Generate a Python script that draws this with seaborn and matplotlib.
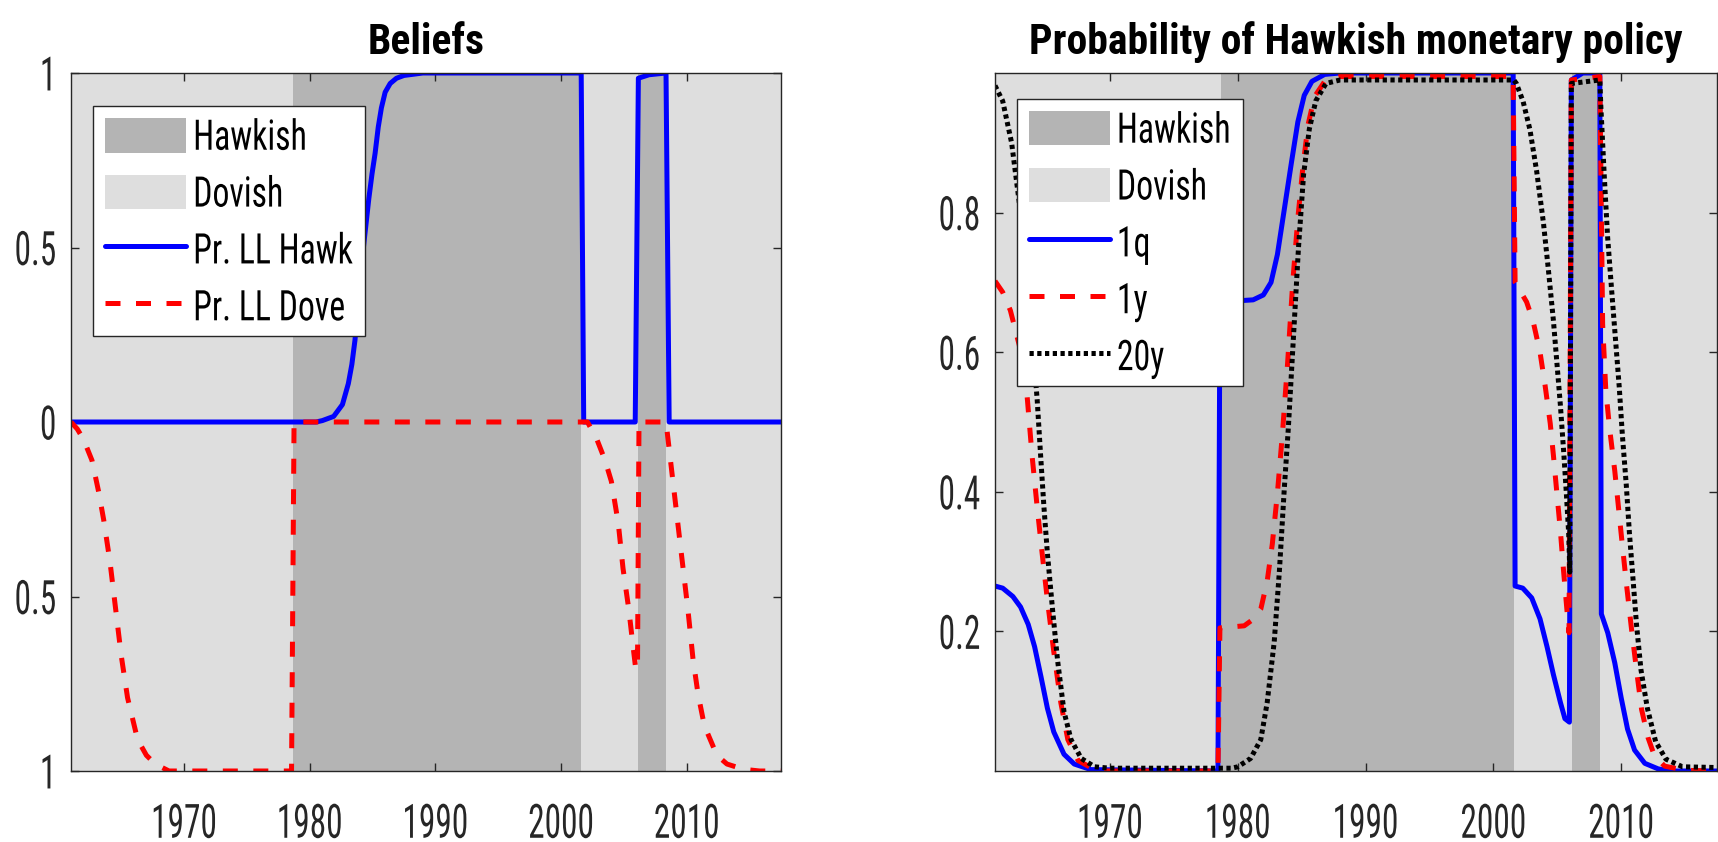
import os
import matplotlib
matplotlib.use("Agg")
import matplotlib.pyplot as plt
import seaborn as sns
import numpy as np
import pandas as pd
from matplotlib.patches import Patch
from matplotlib.lines import Line2D
from matplotlib import font_manager
from matplotlib.font_manager import FontProperties
from matplotlib.patheffects import AbstractPathEffect
from matplotlib.transforms import Affine2D

# ---------------- data ----------------
hawkish_start = [1978.67, 2006.15]
hawkish_end = [2001.6, 2008.35]
x_min, x_max = 1961.0, 2017.5
year_ticks = [1970, 1980, 1990, 2000, 2010]

# Left panel: Beliefs
hawk_years = [1961.0, 1980.5, 1981.0, 1981.9, 1982.6, 1983.07, 1983.35, 1983.6, 1983.9, 1984.1,
              1984.3, 1984.5, 1984.7, 1984.95, 1985.2, 1985.45, 1985.7, 1986.0, 1986.4, 1986.9,
              1987.5, 1989.0, 2001.6, 2001.8, 2005.9, 2006.15, 2007.0, 2008.35, 2008.6, 2017.5]
hawk_vals = [0.0, 0.0, 0.004, 0.016, 0.05, 0.11, 0.165, 0.235, 0.37, 0.44,
             0.51, 0.575, 0.64, 0.71, 0.77, 0.845, 0.9, 0.945, 0.97, 0.985,
             0.993, 1.0, 1.0, 0.0, 0.0, 0.985, 0.995, 1.0, 0.0, 0.0]

dove_years = [1961.0, 1961.5, 1962.0, 1962.67, 1963.2, 1963.6, 1964.1, 1964.6, 1965.0, 1965.5,
              1966.3, 1967.0, 1967.7, 1968.8, 1978.55, 1978.75, 2002.1, 2002.85, 2003.5, 2004.0,
              2004.55, 2004.93, 2005.4, 2005.7, 2005.95, 2006.08, 2006.2, 2008.35, 2008.9, 2009.45,
              2010.1, 2010.5, 2010.9, 2011.4, 2012.4, 2013.2, 2014.5, 2015.8, 2017.5]
dove_vals = [0.0, 0.02, 0.05, 0.11, 0.2, 0.28, 0.4, 0.55, 0.67, 0.79,
             0.91, 0.955, 0.98, 1.0, 1.0, 0.0, 0.0, 0.05, 0.11, 0.17,
             0.29, 0.42, 0.54, 0.635, 0.71, 0.70, 0.0, 0.0, 0.17, 0.34,
             0.54, 0.68, 0.78, 0.87, 0.955, 0.98, 0.995, 1.0, 1.0]

# Right panel: Probability of Hawkish monetary policy
q1_years = [1961.0, 1961.6, 1962.4, 1963.0, 1963.6, 1964.1, 1964.6, 1965.1, 1965.6, 1966.4,
            1967.2, 1968.5, 1978.45, 1978.6, 1981.2, 1982.0, 1982.6, 1983.1, 1983.6, 1984.2,
            1984.7, 1985.2, 1985.8, 1986.8, 1988.0, 2001.55, 2001.7, 2002.3, 2003.0, 2003.65,
            2004.2, 2004.7, 2005.25, 2005.6, 2005.95, 2006.1, 2007.0, 2008.33, 2008.45, 2008.95,
            2009.5, 2010.0, 2010.5, 2011.05, 2011.85, 2012.9, 2014.0, 2017.5]
q1_vals = [0.265, 0.262, 0.25, 0.235, 0.21, 0.178, 0.135, 0.09, 0.056, 0.024,
           0.01, 0.002, 0.0, 0.672, 0.675, 0.682, 0.70, 0.74, 0.80, 0.872,
           0.93, 0.968, 0.988, 0.998, 1.0, 1.0, 0.265, 0.262, 0.248, 0.218,
           0.178, 0.138, 0.098, 0.075, 0.07, 0.99, 1.0, 1.0, 0.225, 0.198,
           0.155, 0.105, 0.06, 0.03, 0.011, 0.003, 0.0, 0.0]

y1_years = [1961.0, 1961.6, 1962.2, 1962.9, 1963.5, 1963.9, 1964.3, 1964.7, 1965.1, 1965.6,
            1966.15, 1966.7, 1967.5, 1968.5, 1969.5, 1978.45, 1978.6, 1980.5, 1981.25, 1981.8,
            1982.3, 1982.7, 1983.1, 1983.5, 1983.9, 1984.3, 1984.7, 1985.1, 1985.5, 1986.0,
            1986.8, 1988.0, 2001.55, 2001.7, 2002.6, 2003.1, 2003.65, 2004.05, 2004.45, 2004.7,
            2004.97, 2005.24, 2005.5, 2005.75, 2005.92, 2006.1, 2008.33, 2008.42, 2008.55, 2008.8,
            2009.1, 2009.5, 2010.0, 2010.4, 2010.8, 2011.2, 2011.6, 2012.1, 2012.6, 2013.4,
            2015.0, 2017.5]
y1_vals = [0.702, 0.686, 0.66, 0.61, 0.54, 0.452, 0.378, 0.31, 0.245, 0.171,
           0.098, 0.045, 0.015, 0.005, 0.0, 0.0, 0.205, 0.208, 0.218, 0.232,
           0.272, 0.325, 0.398, 0.485, 0.585, 0.70, 0.792, 0.866, 0.926, 0.966,
           0.988, 0.995, 0.995, 0.70, 0.672, 0.645, 0.60, 0.552, 0.498, 0.452,
           0.398, 0.345, 0.285, 0.232, 0.198, 0.99, 0.995, 0.85, 0.64, 0.545,
           0.49, 0.43, 0.34, 0.27, 0.205, 0.145, 0.088, 0.048, 0.022, 0.007,
           0.001, 0.0]

y20_years = [1961.0, 1961.6, 1962.3, 1963.0, 1963.7, 1964.3, 1964.57, 1964.83, 1965.1, 1965.5,
             1965.9, 1966.4, 1966.95, 1967.75, 1968.8, 1970.0, 1979.5, 1980.0, 1981.0, 1981.8,
             1982.3, 1982.85, 1983.25, 1983.64, 1983.95, 1984.35, 1984.75, 1985.15, 1985.6, 1986.1,
             1986.9, 1988.0, 2001.6, 2001.8, 2002.33, 2002.86, 2003.39, 2003.92, 2004.3, 2004.7,
             2004.97, 2005.24, 2005.5, 2005.71, 2005.9, 2005.98, 2006.1, 2008.33, 2008.41, 2008.68,
             2008.94, 2009.25, 2009.55, 2009.85, 2010.1, 2010.4, 2010.65, 2010.95, 2011.2, 2011.55,
             2012.05, 2012.7, 2013.5, 2014.8, 2017.5]
y20_vals = [0.982, 0.96, 0.9, 0.8, 0.67, 0.532, 0.452, 0.378, 0.312, 0.232,
            0.158, 0.085, 0.045, 0.018, 0.006, 0.004, 0.004, 0.006, 0.018, 0.045,
            0.098, 0.185, 0.285, 0.405, 0.49, 0.62, 0.75, 0.855, 0.92, 0.96,
            0.985, 0.99, 0.99, 0.985, 0.959, 0.919, 0.859, 0.785, 0.719, 0.645,
            0.585, 0.525, 0.458, 0.398, 0.338, 0.285, 0.985, 0.99, 0.952, 0.852,
            0.765, 0.69, 0.62, 0.55, 0.48, 0.41, 0.34, 0.27, 0.21, 0.145,
            0.09, 0.042, 0.017, 0.006, 0.005]

# ---------------- fonts ----------------
sns.set_theme(style="white")
plt.rcParams["font.family"] = ["Liberation Sans", "DejaVu Sans"]

files = {os.path.basename(f.fname).lower(): f.fname for f in font_manager.fontManager.ttflist}


def find_font(cands):
    for c in cands:
        for base, path in files.items():
            if base.startswith(c):
                return path
    return None


reg_path = find_font(["liberationsansnarrow-regular", "liberationsansnarrow.",
                      "robotocondensed-regular", "robotocondensed.",
                      "dejavusanscondensed.", "notosans-condensed.", "opensans-condensedregular",
                      "opensanscondensed-regular"])
bold_path = find_font(["liberationsansnarrow-bold.", "robotocondensed-bold.",
                       "dejavusanscondensed-bold.", "notosans-condensedbold.",
                       "opensans-condensedbold", "opensanscondensed-bold."])


def make_fp(path, size, bold=False):
    if path:
        fp = FontProperties(fname=path)
    else:
        fp = FontProperties(family=["Liberation Sans", "DejaVu Sans"],
                            weight="bold" if bold else "normal")
        size = size * 0.85
    fp.set_size(size)
    return fp


FP_TICK = make_fp(reg_path, 24)
FP_LEG = make_fp(reg_path, 24.3)
FP_TITLE = make_fp(bold_path, 30, bold=True)


class StretchY(AbstractPathEffect):
    """Draw text glyphs stretched vertically about the middle of the cap height."""

    def __init__(self, sy=1.0):
        super().__init__()
        self.sy = sy

    def draw_path(self, renderer, gc, tpath, affine, rgbFace=None):
        ay = affine.transform((0.0, 35.5))[1]
        ax0 = affine.transform((0.0, 0.0))[0]
        new = affine + Affine2D().translate(-ax0, -ay).scale(1.0, self.sy).translate(ax0, ay)
        renderer.draw_path(gc, tpath, new, rgbFace)


HAWK_C = "#b4b4b4"
DOVE_C = "#dedede"
AX_C = "#262626"
LW = 3.6
DASH = (3.0, 3.1)
DOT = (0.85, 0.7)

fig = plt.figure(figsize=(17.18, 8.42), dpi=100)
W, H = 1718, 842
ax1 = fig.add_axes([71 / W, 1 - 771 / H, 710 / W, 698 / H])
ax2 = fig.add_axes([995 / W, 1 - 771 / H, 722 / W, 698 / H])


def shade(ax):
    ax.axvspan(x_min, x_max, color=DOVE_C, lw=0, zorder=0)
    for s, e in zip(hawkish_start, hawkish_end):
        ax.axvspan(s, e, color=HAWK_C, lw=0, zorder=0.5)


def style_axes(ax):
    ax.set_xlim(x_min, x_max)
    ax.set_xticks(year_ticks)
    ax.set_xticklabels([str(y) for y in year_ticks])
    ax.tick_params(axis="both", direction="in", length=6, width=1, colors=AX_C,
                   top=True, right=True, bottom=True, left=True)
    ax.tick_params(axis="x", pad=26.5)
    ax.tick_params(axis="y", pad=10.5)
    for sp in ax.spines.values():
        sp.set_color(AX_C)
        sp.set_linewidth(1.0)
        sp.set_zorder(5)
    ax.set_xlabel("")
    ax.set_ylabel("")


def fix_ticklabels(ax):
    for lbl in ax.get_xticklabels() + ax.get_yticklabels():
        lbl.set_fontproperties(FP_TICK)
        lbl.set_color(AX_C)
        lbl.set_path_effects([StretchY(1.42)])


def make_legend(ax, handles, anchor):
    lg = ax.legend(handles=handles, loc="upper left", bbox_to_anchor=anchor,
                   borderaxespad=0, prop=FP_LEG, frameon=True, fancybox=False,
                   framealpha=1, edgecolor=AX_C, handlelength=2.4, handleheight=1.19,
                   labelspacing=0.63, handletextpad=0.2, borderpad=0.36)
    lg.get_frame().set_linewidth(1.0)
    lg.set_zorder(10)
    for t in lg.get_texts():
        t.set_color("black")
        t.set_path_effects([StretchY(1.25)])
    return lg


# ---- Left ----
shade(ax1)
df_h = pd.DataFrame({"year": hawk_years, "p": hawk_vals})
df_d = pd.DataFrame({"year": dove_years, "p": -np.array(dove_vals)})
sns.lineplot(data=df_h, x="year", y="p", ax=ax1, color="#0000ff", lw=LW,
             estimator=None, sort=False, zorder=3)
sns.lineplot(data=df_d, x="year", y="p", ax=ax1, color="#ff0000", lw=LW,
             estimator=None, sort=False, zorder=4, dashes=DASH)
style_axes(ax1)
ax1.set_ylim(-1, 1)
ax1.set_yticks([-1, -0.5, 0, 0.5, 1])
ax1.set_yticklabels(["1", "0.5", "0", "0.5", "1"])
fix_ticklabels(ax1)
ax1.set_title("Beliefs", fontproperties=FP_TITLE, pad=14, color="black")

leg_handles1 = [Patch(facecolor=HAWK_C, edgecolor="none", label="Hawkish"),
                Patch(facecolor=DOVE_C, edgecolor="none", label="Dovish"),
                Line2D([], [], color="#0000ff", lw=LW, label="Pr. LL Hawk"),
                Line2D([], [], color="#ff0000", lw=LW, dashes=DASH, label="Pr. LL Dove")]
make_legend(ax1, leg_handles1, (0.0314, 0.9527))

# ---- Right ----
shade(ax2)
df_q1 = pd.DataFrame({"year": q1_years, "p": q1_vals})
df_y1 = pd.DataFrame({"year": y1_years, "p": y1_vals})
df_y20 = pd.DataFrame({"year": y20_years, "p": y20_vals})
sns.lineplot(data=df_q1, x="year", y="p", ax=ax2, color="#0000ff", lw=LW,
             estimator=None, sort=False, zorder=3)
sns.lineplot(data=df_y1, x="year", y="p", ax=ax2, color="#ff0000", lw=LW,
             estimator=None, sort=False, zorder=4, dashes=DASH)
sns.lineplot(data=df_y20, x="year", y="p", ax=ax2, color="#000000", lw=LW,
             estimator=None, sort=False, zorder=4.5, dashes=DOT)
style_axes(ax2)
ax2.set_ylim(0, 1)
ax2.set_yticks([0.2, 0.4, 0.6, 0.8])
ax2.set_yticklabels(["0.2", "0.4", "0.6", "0.8"])
fix_ticklabels(ax2)
ax2.set_title("Probability of Hawkish monetary policy", fontproperties=FP_TITLE, pad=14,
              color="black")

leg_handles2 = [Patch(facecolor=HAWK_C, edgecolor="none", label="Hawkish"),
                Patch(facecolor=DOVE_C, edgecolor="none", label="Dovish"),
                Line2D([], [], color="#0000ff", lw=LW, label="1q"),
                Line2D([], [], color="#ff0000", lw=LW, dashes=DASH, label="1y"),
                Line2D([], [], color="#000000", lw=LW, dashes=DOT, label="20y")]
make_legend(ax2, leg_handles2, (0.0305, 0.9628))

fig.savefig("out.png", dpi=100)
